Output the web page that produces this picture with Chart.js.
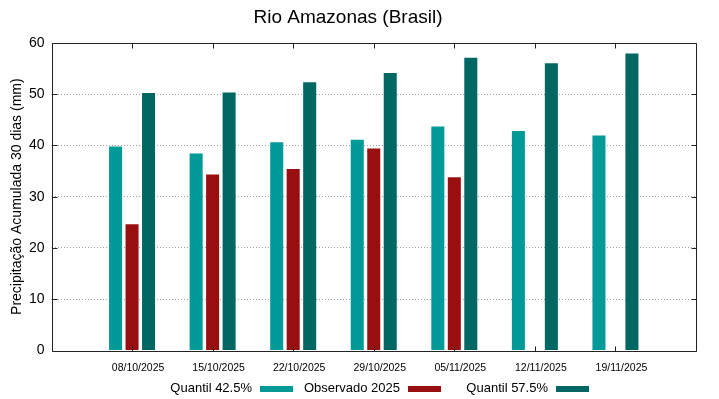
<!DOCTYPE html>
<html>
<head>
<meta charset="utf-8">
<script src="https://cdn.jsdelivr.net/npm/chart.js@4.4.1/dist/chart.umd.min.js"></script>
<style>
  html, body { margin: 0; padding: 0; background: #fff; }
</style>
</head>
<body>
<canvas id="chart" width="719" height="399"></canvas>
<script>
// data
const dates = ['08/10/2025', '15/10/2025', '22/10/2025', '29/10/2025', '05/11/2025', '12/11/2025', '19/11/2025'];
const quantil425 = [39.8, 38.4, 40.6, 41.1, 43.7, 42.8, 41.9];
const observado2025 = [24.6, 34.3, 35.4, 39.4, 33.8, null, null];
const quantil575 = [50.2, 50.3, 52.3, 54.1, 57.1, 56.0, 57.9];
const yTicks = [0, 10, 20, 30, 40, 50, 60];

// empty slots on both ends so the dates sit where gnuplot put them
const pad = arr => [null, ...arr, null];
const labels = ['', ...dates, ''];

const FONT = 'Liberation Sans, Arial, sans-serif';

// gnuplot style frame with inward tick marks
const framePlugin = {
    id: 'frame',
    afterDatasetsDraw(chart) {
        const { ctx, chartArea: a, scales } = chart;
        const l = Math.round(a.left) + 0.5, r = Math.round(a.right) + 0.5;
        const t = Math.round(a.top) + 0.5, b = Math.round(a.bottom) + 0.5;
        ctx.save();
        ctx.strokeStyle = '#222';
        ctx.lineWidth = 1;
        ctx.beginPath();
        ctx.rect(l, t, r - l, b - t);
        yTicks.forEach(v => {
            const y = Math.round(scales.y.getPixelForValue(v)) + 0.5;
            ctx.moveTo(l, y); ctx.lineTo(l + 5, y);
            ctx.moveTo(r, y); ctx.lineTo(r - 5, y);
        });
        dates.forEach((d, i) => {
            const x = Math.round(scales.x.getPixelForValue(i + 1)) + 0.5;
            ctx.moveTo(x, t); ctx.lineTo(x, t + 5);
            ctx.moveTo(x, b); ctx.lineTo(x, b - 5);
        });
        ctx.stroke();
        ctx.restore();
    }
};

// key below the plot: text first, then the colour sample
const keyPlugin = {
    id: 'key',
    afterDraw(chart) {
        const ctx = chart.ctx;
        ctx.save();
        ctx.font = '13px ' + FONT;
        ctx.textAlign = 'right';
        ctx.textBaseline = 'middle';
        chart.data.datasets.forEach((ds, i) => {
            const sx = 260 + i * 148;
            ctx.fillStyle = '#000';
            ctx.fillText(ds.label, sx - 8, 388);
            ctx.fillStyle = ds.backgroundColor;
            ctx.fillRect(sx, 386, 33, 6);
        });
        ctx.restore();
    }
};

new Chart(document.getElementById('chart'), {
    type: 'bar',
    data: {
        labels: labels,
        datasets: [
            { label: 'Quantil 42.5%', data: pad(quantil425), backgroundColor: '#009a98' },
            { label: 'Observado 2025', data: pad(observado2025), backgroundColor: '#990f0f' },
            { label: 'Quantil 57.5%', data: pad(quantil575), backgroundColor: '#006763' }
        ]
    },
    options: {
        responsive: false,
        animation: false,
        categoryPercentage: 0.614,
        barPercentage: 0.79,
        layout: { padding: { left: 0, right: 23, top: 0, bottom: 0 } },
        plugins: {
            legend: { display: false },
            tooltip: { enabled: false },
            title: {
                display: true,
                text: 'Rio Amazonas (Brasil)',
                color: '#000',
                font: { family: FONT, size: 19, weight: 'normal' },
                padding: { top: 6, bottom: 14 }
            }
        },
        scales: {
            x: {
                type: 'category',
                offset: false,
                grid: { display: false },
                border: { display: false },
                ticks: {
                    autoSkip: false,
                    maxRotation: 0,
                    minRotation: 0,
                    padding: 3,
                    labelOffset: 6,
                    color: '#000',
                    font: { family: FONT, size: 10.5 }
                },
                afterFit(scale) { scale.height = 48.5; }
            },
            y: {
                min: 0,
                max: 60,
                grid: {
                    color: c => (c.tick && (c.tick.value === 0 || c.tick.value === 60)) ? 'rgba(0,0,0,0)' : '#a0a0a0',
                    lineWidth: 1,
                    tickLength: 0
                },
                border: { display: false, dash: [1, 2] },
                ticks: {
                    stepSize: 10,
                    padding: 7,
                    color: '#000',
                    font: { family: FONT, size: 14 }
                },
                title: {
                    display: true,
                    text: 'Precipitação Acumulada 30 dias (mm)',
                    color: '#000',
                    font: { family: FONT, size: 14 },
                    padding: { top: 9, bottom: 0 }
                },
                afterFit(scale) { scale.width = 51.5; }
            }
        }
    },
    plugins: [framePlugin, keyPlugin]
});
</script>
</body>
</html>
